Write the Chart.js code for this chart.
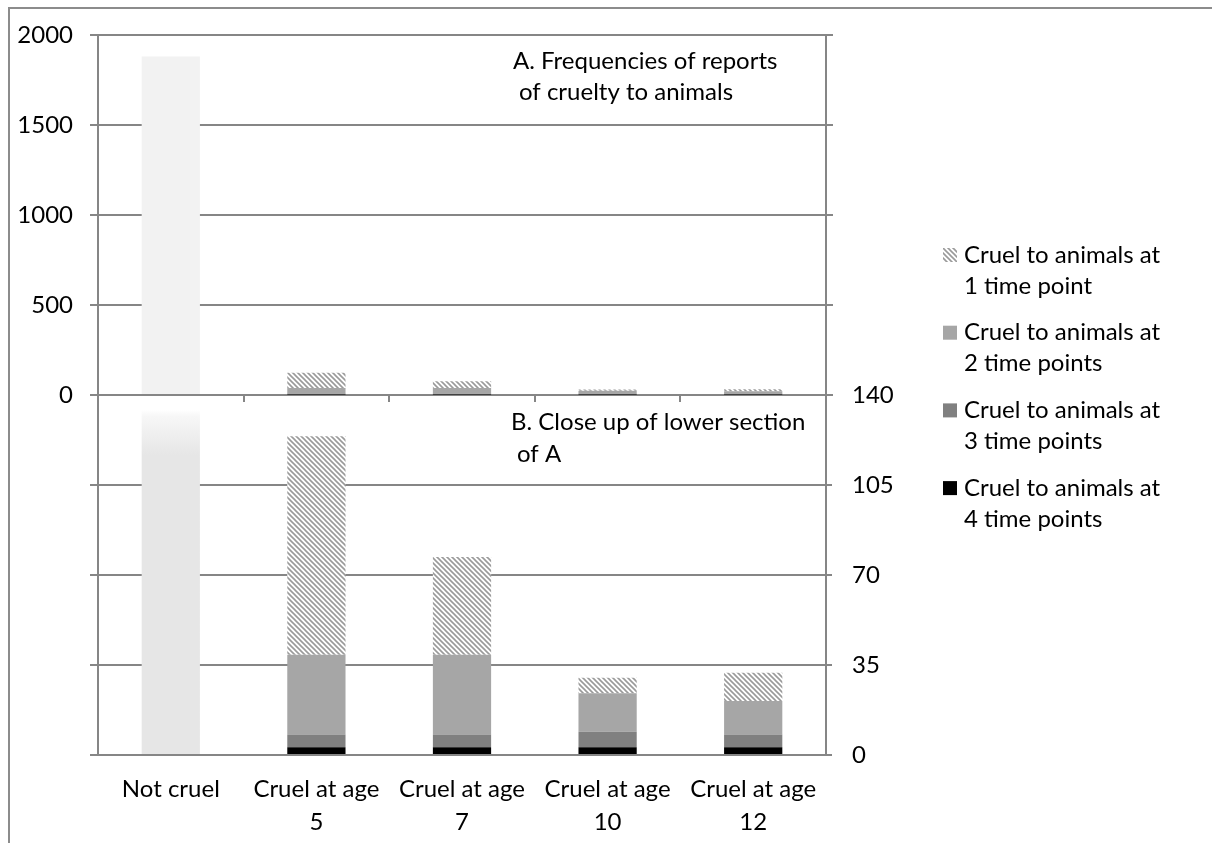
<!DOCTYPE html>
<html>
<head>
<meta charset="utf-8">
<script src="https://cdn.jsdelivr.net/npm/chart.js@4.4.1/dist/chart.umd.min.js"></script>
<style>
  html, body { margin: 0; padding: 0; background: #fff; }
  #wrap { position: relative; width: 1212px; height: 843px; overflow: hidden; }
  #frame { position: absolute; left: 8px; top: 7px; width: 1300px; height: 900px;
           border-top: 2px solid #8c8c8c; border-left: 2px solid #8c8c8c; }
  canvas { position: absolute; left: 0; top: 0; }
</style>
</head>
<body>
<div id="wrap">
  <div id="frame"></div>
  <canvas id="lower" width="1212" height="843"></canvas>
  <canvas id="upper" width="1212" height="843"></canvas>
</div>
<script>
// --- data ---
const categories = [['Not cruel'], ['Cruel at age', '5'], ['Cruel at age', '7'], ['Cruel at age', '10'], ['Cruel at age', '12']];
const notCruel   = [1880, null, null, null, null];
const fourTimes  = [null, 3, 3, 3, 3];
const threeTimes = [null, 5, 5, 6, 5];
const twoTimes   = [null, 31, 31, 15, 13];
const oneTime    = [null, 85, 38, 6, 11];

// axis ranges
const fullMax = 2000, fullStep = 500;   // panel A
const closeMax = 140, closeStep = 35;   // panel B

const FONT = 'Lato';
const FSIZE = 24;
const GRID = '#868686';

// diagonal hatch for "1 time point"
function makeHatch() {
  const p = 5;
  const c = document.createElement('canvas');
  c.width = p; c.height = p;
  const g = c.getContext('2d');
  g.fillStyle = '#fff';
  g.fillRect(0, 0, p, p);
  g.strokeStyle = '#9a9a9a';
  g.lineWidth = 1.6;
  g.beginPath();
  g.moveTo(-1, -1); g.lineTo(p + 1, p + 1);
  g.moveTo(-1, p - 1); g.lineTo(1, p + 1);
  g.moveTo(p - 1, -1); g.lineTo(p + 1, 1);
  g.stroke();
  return document.createElement('canvas').getContext('2d').createPattern(c, 'repeat');
}
const hatch = makeHatch();

function makeDatasets(notCruelColor) {
  return [
    { label: 'Not cruel', data: notCruel, backgroundColor: notCruelColor, clip: 0 },
    { label: 'Cruel to animals at 4 time points', data: fourTimes, backgroundColor: '#000000', clip: 0 },
    { label: 'Cruel to animals at 3 time points', data: threeTimes, backgroundColor: '#808080', clip: 0 },
    { label: 'Cruel to animals at 2 time points', data: twoTimes, backgroundColor: '#a6a6a6', clip: 0 },
    { label: 'Cruel to animals at 1 time point', data: oneTime, backgroundColor: hatch, clip: 0 },
  ];
}

// text notes inside a panel
const notesPlugin = {
  id: 'notes',
  afterDraw(chart, args, opts) {
    const ctx = chart.ctx;
    ctx.save();
    ctx.font = FSIZE + 'px ' + FONT;
    ctx.fillStyle = '#000';
    ctx.textBaseline = 'middle';
    opts.lines.forEach((t, i) => ctx.fillText(t, opts.x + (i ? opts.indent : 0), opts.y + i * opts.lineGap));
    ctx.restore();
  }
};

// legend on the right, two lines per entry
const sideLegend = {
  id: 'sideLegend',
  afterDraw(chart, args, opts) {
    const ctx = chart.ctx;
    const items = chart.data.datasets.slice(1).reverse();
    ctx.save();
    ctx.font = FSIZE + 'px ' + FONT;
    ctx.textBaseline = 'middle';
    items.forEach((ds, i) => {
      const y = opts.top + i * opts.gap;
      ctx.fillStyle = ds.backgroundColor;
      ctx.fillRect(opts.x, y - 7, 14, 14);
      ctx.fillStyle = '#000';
      ds.label.split(/(?<= at) /).forEach((t, j) => ctx.fillText(t, opts.x + 21, y + j * opts.lineGap));
    });
    ctx.restore();
  }
};

Chart.defaults.font.family = FONT;
Chart.defaults.color = '#000';
Chart.defaults.animation = false;

const tickFont = { size: FSIZE };
const gridOpts = { color: GRID, lineWidth: 2 };
const plain = (v) => String(v);

// --- panel A (full range) ---
new Chart(document.getElementById('upper'), {
  type: 'bar',
  data: { labels: categories, datasets: makeDatasets('#f2f2f2') },
  options: {
    responsive: false,
    layout: { padding: { top: 35, left: 0, right: 0, bottom: 0 } },
    datasets: { bar: { barPercentage: 0.4, categoryPercentage: 1 } },
    plugins: {
      legend: { display: false },
      tooltip: { enabled: false },
      notes: { lines: ['A. Frequencies of reports', 'of cruelty to animals'], x: 513, y: 61, indent: 6, lineGap: 31 },
    },
    scales: {
      x: {
        stacked: true,
        ticks: { display: false },
        grid: { ...gridOpts, offset: true, drawOnChartArea: false, tickLength: 7 },
        border: { color: GRID, width: 2 },
        afterFit: (s) => { s.height = 448; },
      },
      y: {
        stacked: true, min: 0, max: fullMax,
        ticks: { stepSize: fullStep, font: tickFont, padding: 17, callback: plain },
        grid: { ...gridOpts, tickLength: 8 },
        border: { color: GRID, width: 2 },
        afterFit: (s) => { s.width = 98; },
      },
      y2: {
        position: 'right', min: 0, max: fullMax,
        ticks: { stepSize: fullStep, display: false },
        grid: { ...gridOpts, drawOnChartArea: false, tickLength: 7 },
        border: { color: GRID, width: 2 },
        afterFit: (s) => { s.width = 386; },
      },
    },
  },
  plugins: [notesPlugin],
});

// --- panel B (close up) ---
function fadedTop(ctx) {
  const area = ctx.chart.chartArea;
  if (!area) return '#e6e6e6';
  const g = ctx.chart.ctx.createLinearGradient(0, area.top, 0, area.top + 60);
  g.addColorStop(0, '#ffffff');
  g.addColorStop(0.25, '#ffffff');
  g.addColorStop(0.35, '#f7f7f7');
  g.addColorStop(1, '#e6e6e6');
  return g;
}

new Chart(document.getElementById('lower'), {
  type: 'bar',
  data: { labels: categories, datasets: makeDatasets(fadedTop) },
  options: {
    responsive: false,
    layout: { padding: { top: 395, left: 0, right: 0, bottom: 0 } },
    datasets: { bar: { barPercentage: 0.4, categoryPercentage: 1 } },
    plugins: {
      legend: { display: false },
      tooltip: { enabled: false },
      notes: { lines: ['B. Close up of lower section', 'of A'], x: 511, y: 422, indent: 6, lineGap: 32 },
      sideLegend: { x: 943, top: 255, gap: 77.7, lineGap: 31 },
    },
    scales: {
      x: {
        stacked: true,
        ticks: { font: { size: FSIZE, lineHeight: 1.4 }, padding: 17, maxRotation: 0 },
        grid: { display: false, drawTicks: false },
        border: { color: GRID, width: 2 },
        afterFit: (s) => { s.height = 88; },
      },
      y: {
        stacked: true, min: 0, max: closeMax,
        ticks: { stepSize: closeStep, display: false },
        grid: { ...gridOpts, tickLength: 8 },
        border: { color: GRID, width: 2 },
        afterFit: (s) => { s.width = 98; },
      },
      y2: {
        position: 'right', min: 0, max: closeMax,
        ticks: { stepSize: closeStep, font: tickFont, padding: 20, callback: plain },
        grid: { ...gridOpts, drawOnChartArea: false, tickLength: 6 },
        border: { color: GRID, width: 2 },
        afterFit: (s) => { s.width = 386; },
      },
    },
  },
  plugins: [notesPlugin, sideLegend],
});
</script>
</body>
</html>
